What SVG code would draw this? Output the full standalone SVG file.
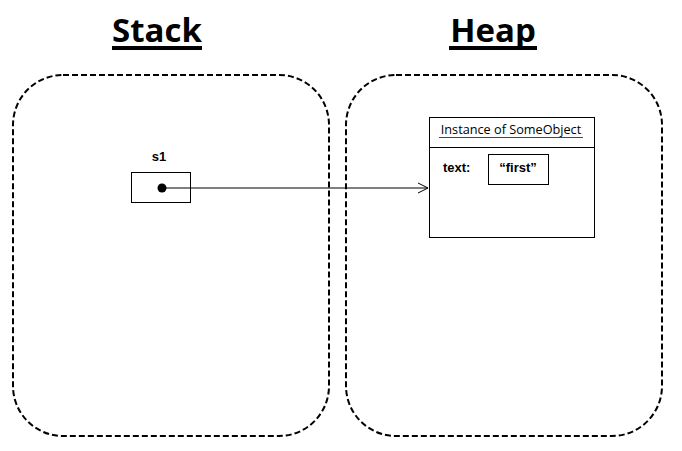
<svg xmlns="http://www.w3.org/2000/svg" width="682" height="451" viewBox="0 0 682 451">
<style>
.area{fill:none;stroke:#000;stroke-width:2;stroke-dasharray:6,3}
.title{font-family:"Open Sans","Liberation Sans",sans-serif;font-weight:bold;font-size:33px;text-anchor:middle}
.box{fill:#fff;stroke:#000;stroke-width:1}
.lbl{font-family:"Liberation Sans",sans-serif;font-weight:bold;font-size:13px}
.inst{font-family:"Open Sans","Liberation Sans",sans-serif;font-size:12.7px;text-anchor:middle}
</style>
<defs>
<marker id="arr" markerWidth="12" markerHeight="12" refX="11" refY="6" orient="auto" markerUnits="userSpaceOnUse">
<path d="M1,1 L11,6 L1,11" fill="none" stroke="#000" stroke-width="1"/>
</marker>
</defs>
<rect fill="#fff" width="682" height="451"/>
<g id="stack">
<rect class="area" x="13" y="75" width="316" height="361" rx="50" ry="50"/>
<text class="title" x="157" y="42">Stack</text>
<rect x="112" y="46" width="90" height="4" fill="#000"/>
</g>
<g id="heap">
<rect class="area" x="346" y="75" width="316" height="361" rx="50" ry="50"/>
<text class="title" x="493" y="42">Heap</text>
<rect x="449" y="46" width="88" height="4" fill="#000"/>
</g>
<g id="s1">
<text class="lbl" x="159" y="161" text-anchor="middle">s1</text>
<rect class="box" x="131.5" y="172.5" width="59" height="30"/>
<circle cx="162" cy="188" r="4.5" fill="#000"/>
</g>
<g id="instance">
<rect class="box" x="429.5" y="117.5" width="165" height="120"/>
<line x1="429.5" y1="147.5" x2="594.5" y2="147.5" stroke="#000"/>
<text class="inst" x="511" y="134">Instance of SomeObject</text>
<line x1="439" y1="137.5" x2="583" y2="137.5" stroke="#7a3b00" stroke-width="1"/>
<text class="lbl" x="443" y="172">text:</text>
<rect class="box" x="488.5" y="154.5" width="60" height="30"/>
<text class="lbl" x="518" y="172" text-anchor="middle">“first”</text>
</g>
<g id="connectors">
<line x1="162" y1="188" x2="428" y2="188" stroke="#000" stroke-width="1" marker-end="url(#arr)"/>
</g>
</svg>
